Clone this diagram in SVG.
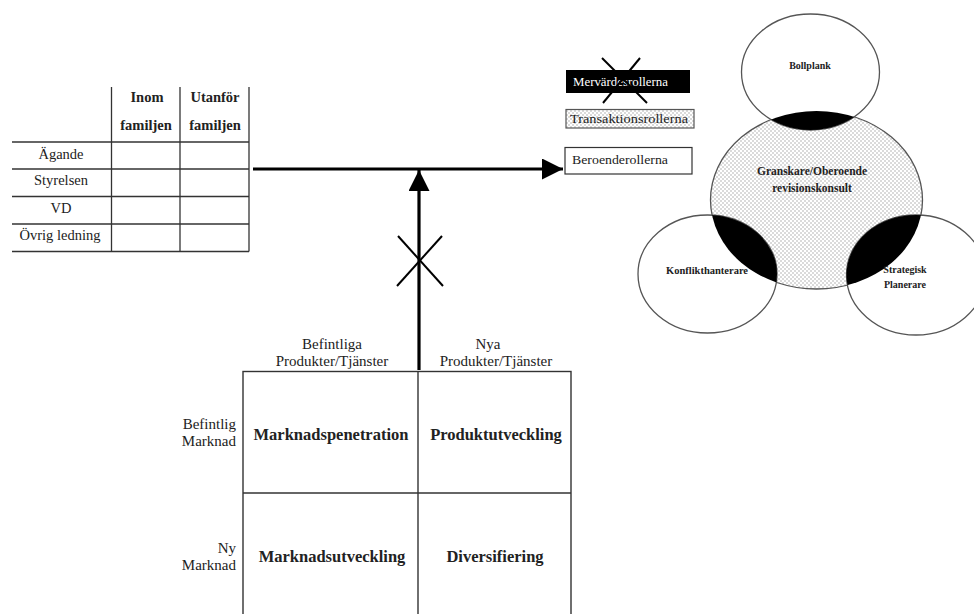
<svg xmlns="http://www.w3.org/2000/svg" width="974" height="614" viewBox="0 0 974 614">
<defs>
<pattern id="dots" width="4" height="4" patternUnits="userSpaceOnUse">
<rect width="4" height="4" fill="#ffffff"/>
<circle cx="1" cy="1" r="0.7" fill="#9a9a9a"/>
<circle cx="3" cy="3" r="0.7" fill="#9a9a9a"/>
</pattern>
<clipPath id="clipC"><ellipse cx="816.5" cy="200" rx="106" ry="89"/></clipPath>
<marker id="arr" viewBox="0 0 10 10" refX="10" refY="5" markerWidth="22" markerHeight="21" markerUnits="userSpaceOnUse" orient="auto"><path d="M0,0 L10,5 L0,10 Z" fill="#000"/></marker>
</defs>
<style>
text{font-family:'Liberation Serif','Times New Roman',Times,serif;fill:#222}
.tl{stroke:#333;stroke-width:1.3;fill:none}
.hb{font-weight:bold;font-size:14.5px}
.rl{font-size:14.5px}
.mx{font-weight:bold;font-size:16.5px}
.mh{font-size:15px}
.lg{font-size:12px}
.vn{font-weight:bold;font-size:10px}
.ell{stroke:#555;stroke-width:1.3}
.conn{stroke:#000;stroke-width:3.2;fill:none}
.cross{stroke:#000;stroke-width:2;fill:none}
</style>
<rect width="974" height="614" fill="#fff"/>

<g id="table" font-family="Liberation Serif, serif">
<line class="tl" x1="12" y1="142" x2="249" y2="142"/>
<line class="tl" x1="12" y1="169" x2="249" y2="169"/>
<line class="tl" x1="12" y1="196.5" x2="249" y2="196.5"/>
<line class="tl" x1="12" y1="224" x2="249" y2="224"/>
<line class="tl" x1="12" y1="251.5" x2="249" y2="251.5"/>
<line class="tl" x1="111.5" y1="87" x2="111.5" y2="251.5"/>
<line class="tl" x1="180" y1="87" x2="180" y2="251.5"/>
<line class="tl" x1="249" y1="87" x2="249" y2="251.5"/>
<g class="hb" text-anchor="middle">
<text x="147" y="102">Inom</text>
<text x="146" y="130">familjen</text>
<text x="215" y="102">Utanför</text>
<text x="215" y="130">familjen</text>
</g>
<g class="rl" text-anchor="middle">
<text x="61" y="159">Ägande</text>
<text x="61" y="185">Styrelsen</text>
<text x="61" y="213">VD</text>
<text x="60" y="240">Övrig ledning</text>
</g>
</g>

<g id="legend">
<g id="mervarde">
<rect x="566" y="70" width="124" height="23" fill="#000"/>
<text class="lg" x="573" y="86" style="fill:#fff" textLength="95" lengthAdjust="spacingAndGlyphs">Mervärdesrollerna</text>
<line class="cross" x1="602" y1="58" x2="647" y2="103"/>
<line class="cross" x1="640" y1="58" x2="603" y2="103"/>
</g>
<g id="transaktion">
<rect x="566" y="109.5" width="128" height="18.5" fill="url(#dots)" stroke="#555" stroke-width="1.2"/>
<text class="lg" x="570" y="123" textLength="118" lengthAdjust="spacingAndGlyphs">Transaktionsrollerna</text>
</g>
<g id="beroende">
<rect x="565" y="147.5" width="127" height="26.5" fill="#fff" stroke="#333" stroke-width="1.2"/>
<text class="lg" x="572" y="164" textLength="96" lengthAdjust="spacingAndGlyphs">Beroenderollerna</text>
</g>
</g>

<g id="venn">
<g id="granskare">
<ellipse cx="816.5" cy="200" rx="106" ry="89" fill="url(#dots)" class="ell"/>
</g>
<g id="bollplank">
<ellipse cx="810.5" cy="72" rx="69" ry="58" fill="#fff" class="ell"/>
<ellipse cx="810.5" cy="72" rx="69" ry="58" fill="#000" clip-path="url(#clipC)"/>
<text class="vn" x="810" y="69" text-anchor="middle">Bollplank</text>
</g>
<g id="konflikt">
<ellipse cx="707.5" cy="274" rx="69.5" ry="59" fill="#fff" class="ell"/>
<ellipse cx="707.5" cy="274" rx="69.5" ry="59" fill="#000" clip-path="url(#clipC)"/>
<text class="vn" x="707" y="274" text-anchor="middle" style="font-size:10.5px">Konflikthanterare</text>
</g>
<g id="strategisk">
<ellipse cx="916" cy="275" rx="69.5" ry="60" fill="#fff" class="ell"/>
<ellipse cx="916" cy="275" rx="69.5" ry="60" fill="#000" clip-path="url(#clipC)"/>
<text class="vn" x="905" y="273" text-anchor="middle">Strategisk</text>
<text class="vn" x="905" y="288" text-anchor="middle">Planerare</text>
</g>
<g class="vn" text-anchor="middle" style="font-size:11.5px">
<text x="812" y="175">Granskare/Oberoende</text>
<text x="812" y="192">revisionskonsult</text>
</g>
</g>

<g id="matrix">
<rect x="243" y="371.5" width="328" height="260" fill="none" stroke="#333" stroke-width="1.4"/>
<line x1="418" y1="371.5" x2="418" y2="620" stroke="#333" stroke-width="1.4"/>
<line x1="243" y1="493" x2="571" y2="493" stroke="#333" stroke-width="1.4"/>
<g class="mh" text-anchor="middle">
<text x="332" y="349">Befintliga</text>
<text x="332" y="366">Produkter/Tjänster</text>
<text x="488" y="349">Nya</text>
<text x="496" y="366">Produkter/Tjänster</text>
</g>
<g class="mh" text-anchor="end">
<text x="236" y="429">Befintlig</text>
<text x="236" y="446">Marknad</text>
<text x="236" y="553">Ny</text>
<text x="236" y="570">Marknad</text>
</g>
<g class="mx" text-anchor="middle">
<text x="331" y="440">Marknadspenetration</text>
<text x="496" y="440">Produktutveckling</text>
<text x="332" y="562">Marknadsutveckling</text>
<text x="495" y="562">Diversifiering</text>
</g>
</g>

<g id="connectors">
<line class="conn" x1="253" y1="169" x2="563" y2="169" marker-end="url(#arr)"/>
<line class="conn" x1="419" y1="370" x2="419" y2="170" marker-end="url(#arr)"/>
<line class="cross" x1="398" y1="236" x2="443" y2="286"/>
<line class="cross" x1="442" y1="236" x2="397" y2="286"/>
</g>
</svg>
